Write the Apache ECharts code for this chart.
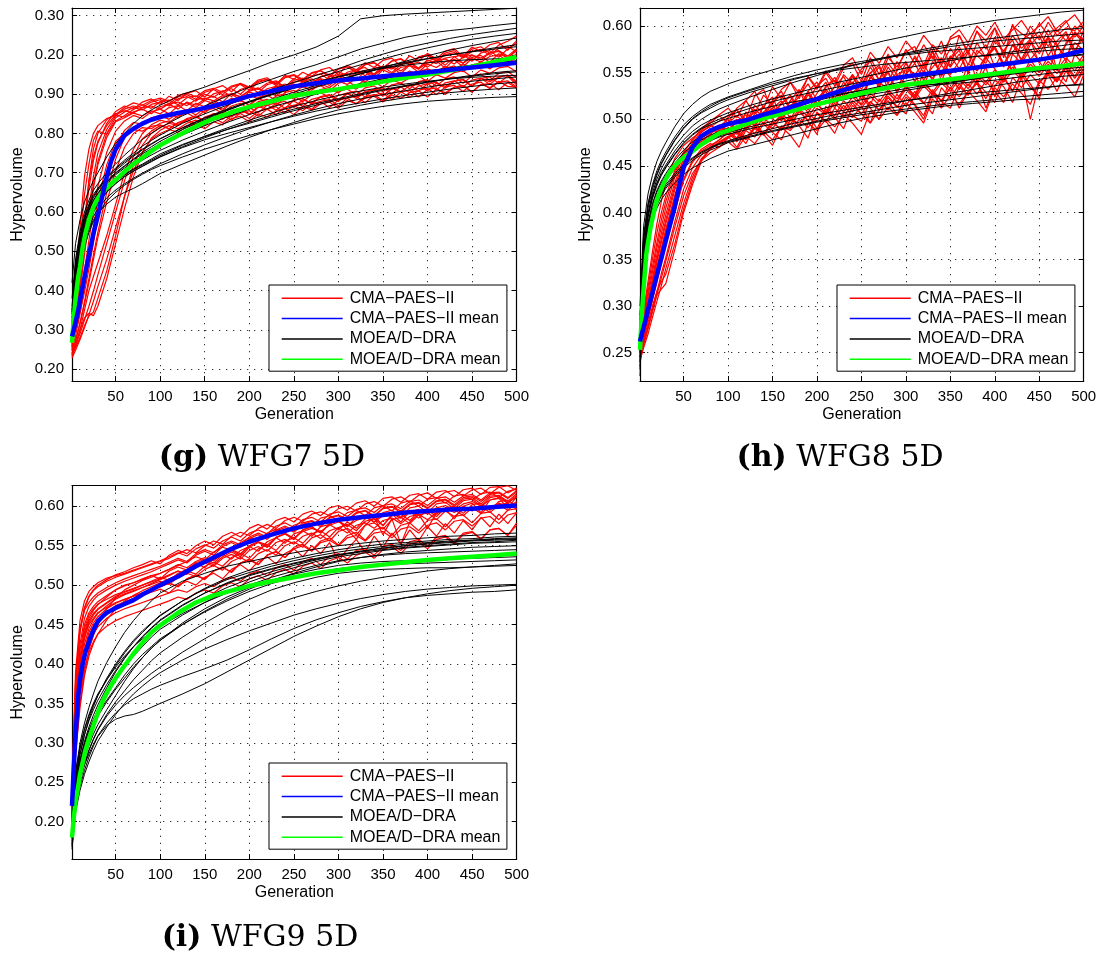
<!DOCTYPE html>
<html>
<head>
<meta charset="utf-8">
<script src="https://cdn.jsdelivr.net/npm/echarts@6/dist/echarts.min.js"></script>
<style>
html, body { margin: 0; padding: 0; background: #fff; }
#chart { width: 1105px; height: 954px; }
</style>
</head>
<body>
<div id="chart"></div>
<script>
// Generations at which each run is sampled
const RUN_GEN = [1,5,10,15,20,25,30,40,50,60,70,80,90,100,110,120,130,140,150,160,170,180,190,200,210,220,230,240,250,260,270,280,290,300,310,320,330,340,350,360,370,380,390,400,410,420,430,440,450,460,470,480,490,500];
const BLACK_GEN = [1,5,10,15,20,25,30,40,50,60,70,80,90,100,125,150,175,200,225,250,275,300,325,350,375,400,425,450,475,500];
const MEAN_GEN = [1,3,5,8,10,13,16,20,25,30,35,40,45,50,60,70,80,90,100,120,140,160,180,200,225,250,275,300,325,350,375,400,425,450,475,500];
const X_TICKS = [50,100,150,200,250,300,350,400,450,500];

// Hypervolume values, in thousandths

// WFG7 5D
const WFG7_CMA = [
  [250,330,430,560,680,760,800,835,850,858,852,866,870,862,876,880,871,886,890,883,897,901,894,908,915,905,919,926,917,932,939,929,944,950,939,955,961,950,966,972,959,975,982,969,986,990,977,994,1000,987,1005,1011,997,1015],
  [270,300,345,395,455,520,590,690,770,808,828,824,840,846,836,852,860,847,865,872,858,878,885,873,892,898,884,904,910,896,915,922,908,928,934,919,938,945,930,950,955,940,958,964,949,966,972,957,975,980,964,982,988,975],
  [240,262,290,325,360,398,440,520,600,680,742,786,806,820,812,828,836,823,842,850,836,855,861,848,866,873,859,876,883,869,887,893,879,897,903,889,905,911,897,913,919,904,921,927,911,929,934,919,936,941,925,943,949,933],
  [262,385,525,645,722,782,806,798,832,846,861,873,864,881,885,873,891,896,883,901,908,894,912,920,904,924,931,915,935,941,925,945,951,936,956,963,947,966,971,955,975,981,964,985,991,974,995,1001,984,1005,1011,994,1015,1030],
  [232,258,300,350,400,435,470,540,620,700,760,800,822,834,828,845,852,840,858,864,851,870,877,862,881,887,872,890,896,881,899,905,890,908,913,898,916,921,906,924,929,914,932,937,921,939,944,928,946,951,935,953,958,942],
  [280,340,420,520,610,690,750,810,845,862,870,866,880,886,876,893,899,887,905,912,899,918,925,911,930,937,922,942,948,934,953,960,944,964,970,955,975,981,965,985,991,975,995,1001,985,1005,1011,994,1015,1021,1004,1025,1035,1048],
  [245,285,340,410,480,560,630,720,780,800,810,806,818,822,812,826,831,819,834,840,827,845,851,838,856,862,848,866,872,858,876,881,866,885,890,875,894,899,884,902,907,892,910,915,899,918,923,907,926,931,914,933,920,918],
  [255,320,400,490,580,660,720,790,830,840,852,845,858,850,866,871,858,877,868,884,872,890,882,898,888,905,896,912,903,920,910,926,917,933,925,940,931,947,938,953,944,959,950,965,956,971,962,977,968,983,974,988,980,993],
  [235,255,280,310,335,345,380,450,540,640,720,770,800,815,826,820,835,842,830,848,854,842,860,866,853,872,878,864,884,889,875,894,899,885,903,908,893,911,916,901,919,924,908,926,931,915,933,938,921,940,944,928,946,924],
  [290,360,460,580,680,740,780,820,848,866,878,872,884,890,882,897,903,893,909,915,905,921,927,916,933,938,927,944,950,938,955,960,948,965,970,958,975,980,967,984,989,976,993,998,984,1001,1006,992,1009,1014,999,1017,1022,1008],
  [238,270,318,372,430,490,548,650,735,790,815,826,832,845,851,840,858,864,853,870,862,878,884,871,889,880,895,901,887,906,898,912,917,903,922,913,928,933,918,937,928,942,947,932,950,941,955,960,944,962,953,967,971,957],
  [275,350,450,570,660,730,775,826,856,870,862,880,888,874,895,884,902,909,893,914,922,906,928,918,936,942,925,948,938,956,945,962,968,950,974,962,980,968,986,992,972,998,985,1004,990,1010,1016,996,1020,1008,1026,1032,1012,1036],
  [228,248,275,305,338,372,410,480,560,640,705,752,785,800,810,803,818,824,812,830,822,838,844,830,850,842,858,864,848,868,860,875,880,864,884,876,890,895,880,898,890,904,909,893,912,904,918,922,906,925,917,930,934,919],
  [258,305,372,450,528,600,665,752,806,832,846,838,855,862,850,870,878,866,884,876,893,900,886,906,898,914,920,905,926,917,933,939,922,945,935,951,957,940,962,952,968,973,956,977,968,983,988,970,991,982,996,1000,984,1003],
  [236,262,300,330,342,336,360,430,520,610,690,750,788,808,820,812,826,834,820,840,848,834,852,858,844,862,868,853,872,878,862,882,887,870,890,895,878,898,903,886,905,910,893,912,916,899,918,922,905,924,928,911,930,916],
  [268,400,560,690,760,800,820,838,846,842,855,862,850,868,875,862,880,872,888,895,880,902,893,910,916,900,922,914,930,936,918,940,931,948,953,936,958,948,964,969,952,974,964,980,985,966,989,979,994,999,981,1003,993,1010],
  [248,275,315,365,420,478,535,625,705,765,800,815,812,826,832,821,838,845,832,851,844,858,864,850,869,861,876,882,866,886,878,892,897,881,901,893,907,912,895,915,907,921,925,908,928,920,933,937,919,940,932,944,948,930],
  [265,335,415,505,595,668,728,800,840,855,866,860,874,880,870,888,894,882,900,892,908,914,900,920,912,928,934,918,940,931,946,952,936,957,948,963,968,951,972,964,978,983,966,987,978,992,996,979,1000,992,1005,1009,993,1012]
];
const WFG7_MOEA = [
  [420,520,580,625,655,680,700,740,775,800,825,845,860,872,900,918,940,960,982,1000,1020,1048,1092,1100,1104,1107,1110,1113,1116,1119],
  [380,480,550,600,630,655,672,700,722,745,765,785,800,815,845,870,895,918,938,958,975,995,1015,1030,1045,1055,1062,1068,1075,1081],
  [350,470,540,590,620,645,660,690,712,732,750,768,782,796,826,850,872,893,912,930,948,965,985,1002,1018,1030,1042,1052,1060,1068],
  [330,450,520,570,605,630,648,680,700,718,735,752,766,780,810,835,858,880,900,920,940,958,975,990,1005,1018,1030,1040,1048,1055],
  [310,430,505,560,595,620,640,672,695,712,728,742,755,768,796,820,842,862,882,900,918,935,952,968,984,998,1012,1024,1034,1043],
  [300,420,490,545,580,610,630,660,680,696,710,722,735,748,772,792,810,826,842,858,872,886,898,910,920,930,940,948,955,960],
  [290,410,480,535,570,598,620,650,672,690,704,716,728,740,764,784,800,815,830,844,857,868,878,888,897,905,913,920,926,931],
  [280,395,465,520,555,580,598,620,638,650,660,672,685,698,722,745,768,790,810,828,845,860,872,882,891,898,904,909,913,916],
  [270,380,455,510,548,575,595,628,650,668,683,696,708,718,740,760,778,795,810,824,838,850,860,869,876,882,886,889,892,894],
  [360,460,530,580,612,636,655,686,706,724,742,758,772,786,814,838,860,880,898,915,930,944,956,966,974,980,985,988,990,992],
  [320,440,510,560,592,616,634,662,684,702,718,732,745,757,783,806,828,848,867,884,900,914,927,939,950,959,967,974,980,985],
  [340,455,525,572,604,628,646,676,698,716,733,748,761,774,802,826,848,868,887,905,922,938,952,966,978,990,1000,1008,1015,1021],
  [295,415,488,540,575,602,622,652,673,690,704,717,729,741,766,789,810,829,846,862,876,889,901,912,922,931,939,946,952,957],
  [285,400,470,525,560,588,608,636,656,672,686,699,711,723,748,771,792,812,830,847,862,876,888,899,909,918,926,933,939,944],
  [345,465,535,585,616,640,658,688,710,728,745,760,774,787,815,840,862,882,900,916,931,945,958,970,981,991,1000,1009,1018,1026],
  [305,425,498,550,585,611,630,658,678,694,708,720,732,744,770,793,814,834,852,869,884,897,908,918,926,933,939,943,946,948]
];
const WFG7_CMA_MEAN = [283,300,320,350,375,410,445,490,545,590,640,690,730,760,795,812,825,835,842,852,860,870,882,895,908,920,928,935,940,946,951,956,962,968,974,980];
const WFG7_MOEA_MEAN = [267,330,380,435,461,510,545,580,612,635,650,662,672,682,703,722,738,755,770,795,818,838,854,868,882,896,905,913,922,932,942,950,960,970,982,995];
const WFG7_Y_TICKS = [0.2,0.3,0.4,0.5,0.6,0.7,0.8,0.9,1.0,1.1];
const WFG7_Y_LABELS = ['0.20','0.30','0.40','0.50','0.60','0.70','0.80','0.90','0.20','0.30'];

// WFG8 5D
const WFG8_CMA = [
  [250,268,290,310,330,350,370,410,448,470,480,486,490,495,488,500,494,505,512,498,515,520,507,523,530,512,533,540,521,545,538,550,530,556,548,560,541,565,556,570,549,574,566,578,556,580,572,585,560,588,579,592,570,596],
  [245,262,278,296,312,318,324,360,400,430,455,470,478,486,479,492,485,497,490,503,495,508,499,512,505,517,508,520,512,525,515,528,519,532,522,536,526,539,530,543,533,546,537,549,540,552,543,556,546,559,549,562,552,565],
  [265,290,320,350,378,400,418,445,465,478,490,498,505,512,502,520,530,512,535,522,540,528,545,532,550,536,555,560,540,566,548,570,552,575,560,580,565,584,556,590,570,595,575,598,566,602,580,600,585,604,590,598,595,605],
  [255,275,298,320,342,362,382,418,450,466,474,480,486,491,484,496,490,501,494,506,498,511,503,516,507,520,511,524,515,528,519,532,522,535,526,539,529,542,533,546,536,549,540,553,543,556,546,559,550,562,553,566,556,569],
  [240,258,276,295,315,335,352,390,425,448,462,470,474,480,486,478,490,484,472,493,488,500,491,506,498,485,508,502,514,496,510,520,505,524,515,500,528,520,534,512,530,538,522,542,535,518,545,500,540,548,530,552,538,555],
  [260,282,305,330,355,378,398,432,458,475,486,494,488,502,510,496,515,506,520,530,512,525,538,520,534,545,528,548,536,556,542,560,548,552,566,550,572,558,576,562,580,568,560,584,572,590,576,586,594,578,596,584,600,590],
  [242,255,270,288,305,322,340,375,410,438,458,468,476,482,470,488,481,495,486,478,500,494,505,490,509,500,515,504,498,519,510,525,514,506,526,517,532,519,512,535,526,540,529,518,544,531,548,534,525,549,540,555,537,552],
  [268,295,326,358,388,412,432,458,472,480,487,492,498,504,510,500,525,532,508,516,526,512,530,540,522,535,546,528,538,550,534,556,542,560,546,534,562,550,568,554,572,540,566,576,558,580,564,584,570,588,552,582,592,586],
  [248,266,286,306,326,346,365,400,436,456,468,474,470,480,486,474,492,483,498,488,504,493,480,508,497,512,502,518,506,496,522,510,527,514,530,518,506,534,522,538,526,542,512,536,546,530,550,538,522,554,542,558,546,562],
  [258,280,302,326,350,372,392,428,455,470,480,476,492,500,486,508,496,514,524,502,520,532,510,528,540,518,536,548,526,544,556,532,552,562,540,558,568,546,564,574,550,570,580,556,574,585,562,580,590,568,584,594,574,588],
  [252,270,292,314,336,356,376,414,446,466,478,484,492,486,498,505,492,508,516,500,520,512,526,518,505,530,522,536,528,515,540,532,548,537,524,552,544,558,546,532,560,552,566,554,540,570,560,575,562,548,578,568,582,574],
  [262,285,310,336,362,385,405,438,462,474,482,490,484,496,504,494,511,502,518,526,510,530,520,536,544,526,548,538,554,562,542,566,556,572,578,558,580,570,586,590,572,594,584,598,580,600,592,586,603,590,598,606,588,600],
  [244,260,276,294,312,330,348,384,418,442,456,464,470,476,468,482,474,487,478,492,483,470,496,488,500,492,505,496,484,509,500,513,504,518,508,496,522,512,526,516,530,520,508,534,524,538,528,516,542,532,545,536,524,548],
  [256,277,300,324,347,368,388,424,452,468,476,484,494,488,480,499,508,495,512,520,500,516,528,514,532,522,540,528,516,546,536,552,528,548,560,542,556,566,548,562,574,552,568,578,560,572,584,564,576,588,566,580,592,582],
  [246,264,282,300,316,326,334,366,404,434,456,468,475,481,488,480,492,485,497,489,502,494,507,498,511,502,490,515,506,519,510,523,513,527,516,504,530,520,534,524,538,527,541,530,518,545,534,548,538,552,541,556,544,558],
  [264,288,315,342,368,392,412,442,464,478,488,496,504,496,512,520,506,526,516,532,540,522,546,534,552,540,558,566,548,572,560,578,566,584,572,590,578,560,588,596,582,600,590,604,586,596,606,592,600,610,594,604,612,598],
  [250,268,288,308,328,348,367,402,434,454,466,472,478,486,476,490,498,484,494,504,490,510,498,484,514,504,520,508,526,512,500,530,518,536,522,542,528,514,546,532,550,538,556,524,548,560,544,564,550,568,554,540,570,558],
  [254,273,296,318,340,360,380,416,448,464,474,482,488,494,500,490,506,514,500,518,524,510,530,516,536,542,524,546,532,550,558,538,562,548,568,554,574,540,566,578,558,582,566,588,572,550,584,592,576,596,580,562,594,584]
];
const WFG8_MOEA = [
  [300,385,420,440,455,466,475,492,506,516,524,530,534,538,546,553,560,566,572,578,584,589,594,598,602,606,609,612,615,617],
  [280,370,405,425,440,452,461,477,490,500,507,512,517,521,529,536,543,549,555,560,565,570,574,578,581,584,586,588,590,592],
  [270,360,398,418,432,443,451,466,478,487,494,499,503,507,515,522,528,534,540,545,550,555,559,563,567,570,573,576,579,582],
  [260,350,390,410,424,434,442,456,467,476,482,487,491,494,501,508,514,520,526,531,536,541,546,550,554,558,561,564,567,570],
  [250,345,385,404,418,428,436,449,459,467,473,478,482,486,492,498,504,510,516,521,526,531,535,539,543,547,550,553,556,559],
  [240,340,380,400,413,423,430,442,452,459,465,470,474,477,484,490,496,501,506,511,515,520,524,528,532,536,540,543,546,548],
  [225,330,372,392,405,414,421,432,441,448,453,458,462,466,472,478,484,490,496,501,505,509,512,515,517,519,521,522,523,525],
  [265,355,395,415,429,440,448,462,474,483,490,494,498,501,508,514,519,523,527,531,534,536,537,538,540,542,545,548,551,553],
  [290,375,410,430,445,456,465,481,494,503,510,516,520,524,532,540,547,553,558,562,566,569,572,574,576,578,580,582,584,585],
  [235,335,375,396,410,420,428,440,450,458,464,469,473,476,482,488,493,498,503,507,511,515,518,521,524,527,530,533,536,538],
  [275,362,400,421,436,447,456,471,483,493,500,506,511,515,524,532,540,547,554,560,566,571,576,580,584,587,590,593,596,598],
  [255,348,388,408,422,432,440,453,464,472,478,483,487,490,497,503,509,515,520,525,529,533,537,540,543,546,549,552,554,556],
  [245,342,382,402,416,426,434,447,458,466,472,477,481,484,490,495,500,505,509,513,517,520,523,526,528,530,532,534,536,537],
  [285,372,408,428,442,453,462,478,491,501,508,514,519,523,531,538,544,549,553,556,559,561,563,565,567,569,571,573,575,576],
  [232,332,374,395,408,418,426,438,448,456,462,467,471,475,481,487,492,497,501,505,508,511,514,517,519,521,524,526,528,530],
  [268,358,397,417,431,441,449,463,475,484,491,496,500,504,512,519,525,530,535,540,544,547,550,553,556,559,562,565,567,569]
];
const WFG8_CMA_MEAN = [262,270,277,288,296,307,318,333,351,370,388,406,428,448,470,482,488,492,495,499,505,510,516,522,530,537,542,546,549,552,555,558,561,564,568,574];
const WFG8_MOEA_MEAN = [253,290,318,355,368,385,398,414,426,436,444,450,455,459,466,473,479,485,488,495,501,506,511,516,522,528,533,537,540,543,546,549,552,555,557,560];
const WFG8_Y_TICKS = [0.25,0.3,0.35,0.4,0.45,0.5,0.55,0.6];
const WFG8_Y_LABELS = ['0.25','0.30','0.35','0.40','0.45','0.50','0.55','0.60'];

// WFG9 5D
const WFG9_CMA = [
  [215,330,400,440,458,468,475,485,494,500,503,508,512,515,520,526,522,530,535,531,540,545,540,550,555,551,560,565,560,568,572,568,576,580,575,582,586,580,588,591,585,593,596,590,598,601,595,603,606,600,608,611,604,612],
  [205,300,360,395,415,428,438,448,455,460,464,468,472,476,480,485,482,490,494,490,499,503,498,508,512,506,516,520,514,524,528,521,531,535,528,538,542,534,545,549,540,552,555,546,558,561,552,564,567,558,570,572,563,576],
  [230,370,440,470,485,493,498,505,510,514,518,522,526,530,534,540,545,541,550,556,552,562,567,563,572,577,572,582,586,581,590,593,588,597,600,594,603,606,600,609,612,605,614,617,610,618,620,613,621,623,616,624,626,620],
  [220,340,410,445,462,470,476,482,488,492,496,500,505,510,506,515,520,528,522,534,539,533,544,549,543,555,560,553,565,569,562,574,577,570,580,572,584,588,575,590,580,594,585,596,590,598,592,600,594,602,596,604,598,606],
  [210,320,385,425,445,456,464,474,482,488,492,497,502,507,512,518,514,524,530,526,536,542,536,548,554,548,560,566,558,570,574,566,578,582,570,558,576,586,564,584,552,580,590,572,592,596,584,600,604,592,608,610,598,612],
  [200,290,350,390,418,436,450,470,484,494,500,506,510,515,520,525,530,536,532,542,548,544,554,560,556,566,571,566,576,580,575,585,588,582,592,595,588,598,601,594,604,607,600,609,611,604,613,615,608,616,618,611,619,622],
  [225,345,405,435,450,458,465,472,478,482,486,490,494,498,502,498,508,512,508,518,522,517,528,532,526,538,542,535,546,550,543,554,557,550,560,563,556,566,568,560,571,574,566,576,579,570,581,583,575,585,587,578,589,592],
  [240,380,445,468,478,485,490,497,503,508,512,516,520,524,529,534,530,540,545,541,551,556,551,561,566,561,570,575,569,579,582,576,586,589,583,592,595,588,598,600,594,603,605,598,607,609,602,611,613,606,615,617,610,618],
  [212,310,370,405,425,438,447,458,465,470,474,478,482,486,490,494,491,498,502,498,506,510,505,514,518,512,522,526,519,530,534,526,537,540,533,544,546,538,549,552,544,555,558,549,561,563,554,566,568,559,570,572,563,579],
  [218,335,402,438,455,464,470,478,486,491,495,500,504,508,513,518,514,524,528,524,534,539,533,544,549,543,554,558,552,562,566,559,569,573,566,576,579,572,582,585,578,587,590,583,592,594,587,596,598,591,600,602,595,604],
  [222,350,418,450,465,473,479,487,494,499,503,507,512,508,518,523,519,528,533,528,539,544,538,550,555,548,561,565,558,570,574,566,578,582,574,586,589,580,592,595,586,598,600,592,603,605,597,607,609,600,611,613,604,614],
  [208,310,375,415,436,448,456,466,474,479,483,487,491,495,490,500,505,500,510,515,508,520,526,518,530,536,527,540,546,536,550,540,554,530,546,558,542,562,548,566,552,570,556,574,562,578,566,582,570,586,574,590,578,592],
  [235,375,442,472,486,494,500,507,513,517,522,526,531,527,538,544,540,550,556,551,562,567,561,572,577,571,582,586,580,590,594,588,598,601,595,604,607,600,610,612,605,614,616,609,618,620,612,621,623,615,624,625,617,623],
  [214,325,395,432,452,462,469,477,484,489,493,497,501,505,501,510,515,511,520,525,519,530,535,529,540,545,538,550,555,548,560,564,556,568,572,564,576,579,571,583,586,578,589,592,583,594,596,588,598,600,592,602,604,596],
  [245,390,455,480,492,498,503,509,512,515,519,523,527,531,536,541,537,546,551,547,556,561,556,566,570,565,575,579,573,583,586,580,590,593,587,596,598,592,601,603,597,606,608,601,610,612,605,613,615,608,617,618,611,620],
  [210,315,380,418,440,452,460,470,477,482,486,490,494,498,503,498,508,513,507,518,523,516,528,533,526,538,543,535,548,552,544,556,560,551,563,567,557,570,573,563,576,579,569,582,584,574,587,589,579,591,593,583,595,597],
  [226,355,425,458,473,481,487,494,500,505,509,513,517,522,527,532,528,538,543,538,549,554,548,559,564,558,569,573,567,577,581,574,585,588,581,591,594,587,597,599,592,602,604,597,606,608,600,609,611,603,613,614,606,616],
  [202,285,345,385,410,426,438,456,470,480,487,493,498,503,508,513,518,514,524,529,524,535,540,534,546,551,544,556,560,553,565,569,561,573,577,569,581,584,576,588,590,582,593,595,587,598,600,591,602,604,595,606,608,599]
];
const WFG9_MOEA = [
  [200,260,300,325,345,362,378,402,422,440,455,468,480,490,505,515,524,530,536,541,546,550,553,556,558,560,562,563,565,566],
  [190,250,285,310,330,346,360,382,400,416,430,442,452,462,480,495,507,516,524,531,537,542,546,549,552,554,556,557,559,560],
  [185,240,275,298,316,330,342,362,380,396,410,422,434,444,462,478,492,504,514,522,530,536,540,544,547,549,551,553,554,555],
  [178,232,266,290,308,322,334,352,368,382,396,408,420,430,450,467,482,495,506,515,523,530,535,539,542,544,546,548,549,550],
  [172,225,258,280,297,311,323,342,360,378,394,408,420,430,452,470,485,497,506,514,520,525,528,530,531,532,533,534,535,536],
  [195,245,278,300,316,328,338,354,370,386,400,412,422,432,450,466,480,492,502,510,516,521,524,526,527,528,529,530,531,532],
  [165,215,245,265,282,296,308,322,330,334,336,340,345,350,362,375,390,405,420,435,448,460,470,478,484,489,493,496,498,500],
  [180,228,255,272,286,298,309,325,338,348,356,362,368,373,384,394,405,418,432,445,456,465,473,479,484,487,489,491,492,494],
  [205,265,295,318,336,350,362,380,396,410,422,432,440,448,464,478,490,500,510,518,525,531,535,538,540,541,542,543,544,545],
  [175,222,252,274,291,305,317,336,352,366,380,392,404,414,434,452,468,482,494,503,510,515,518,520,521,522,522,523,524,525],
  [198,255,292,316,334,348,360,380,398,414,428,440,451,461,480,496,509,519,527,534,540,545,549,552,554,556,558,559,561,562],
  [188,242,278,302,320,335,348,370,390,407,422,435,446,456,475,490,502,512,520,527,533,538,542,545,548,550,552,554,555,557],
  [170,218,250,272,290,304,316,334,348,360,370,379,388,396,415,432,448,462,474,484,492,499,505,510,514,518,521,523,525,527],
  [182,236,270,294,312,327,340,362,382,399,414,427,438,448,468,484,497,508,517,525,532,538,543,547,550,552,554,556,557,558],
  [168,212,240,260,276,290,302,320,336,350,362,372,381,389,405,419,431,442,452,462,470,477,483,488,492,495,497,499,500,501],
  [192,250,286,310,328,342,354,374,392,408,422,434,445,455,474,490,503,513,521,528,534,539,543,547,550,553,555,557,558,559]
];
const WFG9_CMA_MEAN = [220,270,310,360,380,400,415,428,443,454,460,465,468,471,476,481,488,494,500,511,524,535,546,555,564,572,578,583,586,589,592,594,596,597,599,601];
const WFG9_MOEA_MEAN = [180,205,225,245,260,275,290,305,322,338,352,363,373,382,398,413,427,440,449,465,478,487,493,499,505,510,515,519,523,526,529,532,534,536,538,540];
const WFG9_Y_TICKS = [0.2,0.25,0.3,0.35,0.4,0.45,0.5,0.55,0.6];
const WFG9_Y_LABELS = ['0.20','0.25','0.30','0.35','0.40','0.45','0.50','0.55','0.60'];

const NAME_CMA = 'CMA\u2212PAES\u2212II';
const NAME_CMA_MEAN = 'CMA\u2212PAES\u2212II mean';
const NAME_MOEA = 'MOEA/D\u2212DRA';
const NAME_MOEA_MEAN = 'MOEA/D\u2212DRA mean';

const SANS = '"Liberation Sans", Arial, Helvetica, sans-serif';
const SERIF = '"DejaVu Serif", "Liberation Serif", serif';

// Layout of the three panels
const PANELS = [
  { tag: '(g)', caption: 'WFG7 5D', grid: { left: 72, top: 8, width: 444.5, height: 373 },
    yMin: 0.1695, yMax: 1.1196, yTicks: WFG7_Y_TICKS, yLabels: WFG7_Y_LABELS,
    cma: WFG7_CMA, moea: WFG7_MOEA, cmaMean: WFG7_CMA_MEAN, moeaMean: WFG7_MOEA_MEAN,
    legendPos: { left: 269, top: 285 }, captionPos: [262, 458] },
  { tag: '(h)', caption: 'WFG8 5D', grid: { left: 640, top: 8, width: 443.7, height: 373 },
    yMin: 0.2197, yMax: 0.6193, yTicks: WFG8_Y_TICKS, yLabels: WFG8_Y_LABELS,
    cma: WFG8_CMA, moea: WFG8_MOEA, cmaMean: WFG8_CMA_MEAN, moeaMean: WFG8_MOEA_MEAN,
    legendPos: { left: 837, top: 285 }, captionPos: [840, 458] },
  { tag: '(i)', caption: 'WFG9 5D', grid: { left: 72, top: 485.7, width: 444.7, height: 373.3 },
    yMin: 0.1527, yMax: 0.6261, yTicks: WFG9_Y_TICKS, yLabels: WFG9_Y_LABELS,
    cma: WFG9_CMA, moea: WFG9_MOEA, cmaMean: WFG9_CMA_MEAN, moeaMean: WFG9_MOEA_MEAN,
    legendPos: { left: 269, top: 763 }, captionPos: [260, 938] }
];

function toPoints(gens, vals) {
  return vals.map((v, i) => [gens[i], v / 1000]);
}

function lineSeries(name, color, width, k, gens, vals) {
  return {
    type: 'line', name: name, xAxisIndex: 2 * k, yAxisIndex: 2 * k,
    data: toPoints(gens, vals), showSymbol: false, symbol: 'none',
    color: color, itemStyle: { color: color },
    lineStyle: { color: color, width: width },
    silent: true, animation: false, emphasis: { disabled: true }
  };
}

const grid = [], xAxis = [], yAxis = [], series = [], legend = [], graphic = [];
const axisLine = { show: true, onZero: false, lineStyle: { color: '#000', width: 1.2 } };
const gridLine = { show: true, lineStyle: { color: '#333', width: 1, type: [1.3, 5.7] } };
const tickOf = (vals) => ({ show: true, inside: true, length: 5, customValues: vals, lineStyle: { color: '#000', width: 1 } });

PANELS.forEach((p, k) => {
  grid.push(Object.assign({ show: false }, p.grid));

  xAxis.push({
    gridIndex: k, type: 'value', min: 1, max: 500, position: 'bottom',
    axisLine: axisLine, axisTick: tickOf(X_TICKS),
    axisLabel: { customValues: X_TICKS, fontSize: 15, color: '#000', fontFamily: SANS, margin: 8 },
    splitLine: gridLine,
    name: 'Generation', nameLocation: 'middle', nameGap: 26,
    nameTextStyle: { fontSize: 16, color: '#000', fontFamily: SANS }
  });
  xAxis.push({
    gridIndex: k, type: 'value', min: 1, max: 500, position: 'top',
    axisLine: axisLine, axisTick: tickOf(X_TICKS),
    axisLabel: { show: false }, splitLine: { show: false }
  });

  const fmt = (v) => {
    const i = p.yTicks.findIndex(t => Math.abs(t - v) < 1e-6);
    return i >= 0 ? p.yLabels[i] : '';
  };
  yAxis.push({
    gridIndex: k, type: 'value', min: p.yMin, max: p.yMax, position: 'left',
    axisLine: axisLine, axisTick: tickOf(p.yTicks),
    axisLabel: { customValues: p.yTicks, formatter: fmt, fontSize: 15, color: '#000', fontFamily: SANS, margin: 8 },
    splitLine: gridLine,
    name: 'Hypervolume', nameLocation: 'middle', nameGap: 46, nameRotate: 90,
    nameTextStyle: { fontSize: 16, color: '#000', fontFamily: SANS }
  });
  yAxis.push({
    gridIndex: k, type: 'value', min: p.yMin, max: p.yMax, position: 'right',
    axisLine: axisLine, axisTick: tickOf(p.yTicks),
    axisLabel: { show: false }, splitLine: { show: false }
  });

  p.cma.forEach(run => series.push(lineSeries(NAME_CMA, '#ff0000', 1.2, k, RUN_GEN, run)));
  p.moea.forEach(run => series.push(lineSeries(NAME_MOEA, '#000000', 1, k, BLACK_GEN, run)));
  series.push(lineSeries(NAME_MOEA_MEAN, '#00ff00', 4.5, k, MEAN_GEN, p.moeaMean));
  series.push(lineSeries(NAME_CMA_MEAN, '#0000ff', 4.5, k, MEAN_GEN, p.cmaMean));

  legend.push({
    data: [NAME_CMA, NAME_CMA_MEAN, NAME_MOEA, NAME_MOEA_MEAN],
    orient: 'vertical', left: p.legendPos.left, top: p.legendPos.top,
    icon: 'rect', itemWidth: 61, itemHeight: 1.5, itemGap: 4.3,
    itemStyle: { borderWidth: 0 },
    padding: [5.3, 6.5, 4, 12.7],
    backgroundColor: '#fff', borderColor: '#000', borderWidth: 1, borderRadius: 0,
    selectedMode: false, z: 10,
    textStyle: { fontSize: 16, lineHeight: 16, color: '#000', fontFamily: SANS, padding: [0, 0, 0, 2] }
  });

  graphic.push({
    type: 'text', x: p.captionPos[0], y: p.captionPos[1],
    style: {
      text: '{b|' + p.tag + '} ' + p.caption,
      rich: { b: { fontWeight: 'bold', fontSize: 30, fontFamily: SERIF, fill: '#000' } },
      fontSize: 30, fontFamily: SERIF, fill: '#000',
      align: 'center', verticalAlign: 'middle'
    }
  });
});

const chart = echarts.init(document.getElementById('chart'), null, { renderer: 'canvas' });
chart.setOption({
  backgroundColor: '#fff',
  animation: false,
  grid: grid, xAxis: xAxis, yAxis: yAxis,
  legend: legend, series: series, graphic: graphic
});
</script>
</body>
</html>
